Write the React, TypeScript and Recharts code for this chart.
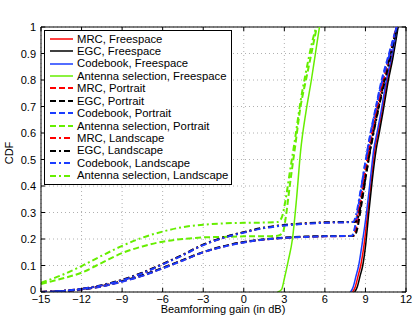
import React from "react";
import {
  LineChart,
  Line,
  XAxis,
  YAxis,
  CartesianGrid,
  ReferenceLine,
} from "recharts";

// [gain in dB, CDF] pairs
const mrcFreespace = [[8.05, 0], [8.25, 0.02], [8.45, 0.06], [8.65, 0.1], [8.9, 0.18], [9.17, 0.3], [9.43, 0.42], [9.7, 0.54], [9.93, 0.6], [10.22, 0.68], [10.62, 0.8], [10.95, 0.88], [11.38, 1]];
const egcFreespace = [[8.2, 0], [8.4, 0.02], [8.6, 0.06], [8.8, 0.1], [9.02, 0.18], [9.25, 0.3], [9.5, 0.42], [9.8, 0.54], [10.02, 0.6], [10.3, 0.68], [10.7, 0.8], [11.02, 0.88], [11.42, 1]];
const cbFreespace = [[7.9, 0], [8.1, 0.02], [8.3, 0.06], [8.5, 0.1], [8.75, 0.18], [9.08, 0.3], [9.35, 0.42], [9.62, 0.54], [9.85, 0.6], [10.15, 0.68], [10.55, 0.8], [10.9, 0.88], [11.35, 1]];
const asFreespace = [[2.5, 0], [2.8, 0.01], [3.0, 0.05], [3.3, 0.12], [3.6, 0.2], [3.9, 0.35], [4.2, 0.53], [4.6, 0.68], [5.0, 0.8], [5.3, 0.9], [5.6, 1]];

const mrcPortrait = [[-15, 0], [-13.5, 0.003], [-12, 0.01], [-10.5, 0.022], [-9, 0.04], [-7.5, 0.062], [-6, 0.09], [-4.5, 0.12], [-3, 0.15], [-1.5, 0.172], [0, 0.188], [1.5, 0.198], [3, 0.204], [4.5, 0.208], [6, 0.21], [8.1, 0.212], [8.3, 0.24], [8.6, 0.33], [9.0, 0.46], [9.4, 0.58], [9.8, 0.68], [10.3, 0.8], [10.8, 0.9], [11.3, 1]];
const egcPortrait = [[-15, 0], [-13.5, 0.003], [-12, 0.01], [-10.5, 0.022], [-9, 0.041], [-7.5, 0.063], [-6, 0.091], [-4.5, 0.121], [-3, 0.151], [-1.5, 0.173], [0, 0.189], [1.5, 0.199], [3, 0.205], [4.5, 0.209], [6, 0.211], [8.2, 0.212], [8.4, 0.24], [8.7, 0.33], [9.1, 0.46], [9.5, 0.58], [9.9, 0.68], [10.4, 0.8], [10.85, 0.9], [11.35, 1]];
const cbPortrait = [[-15, 0], [-13.5, 0.003], [-12, 0.01], [-10.5, 0.021], [-9, 0.039], [-7.5, 0.061], [-6, 0.089], [-4.5, 0.119], [-3, 0.15], [-1.5, 0.171], [0, 0.187], [1.5, 0.198], [3, 0.204], [4.5, 0.208], [6, 0.21], [8.0, 0.212], [8.2, 0.24], [8.5, 0.33], [8.9, 0.46], [9.3, 0.58], [9.7, 0.68], [10.2, 0.8], [10.75, 0.9], [11.3, 1]];
const asPortrait = [[-15, 0.03], [-13.5, 0.05], [-12, 0.073], [-10.5, 0.11], [-9, 0.147], [-7.5, 0.172], [-6, 0.19], [-4.5, 0.2], [-3, 0.206], [-1.5, 0.208], [0, 0.21], [1.5, 0.21], [2.5, 0.212], [2.9, 0.225], [3.1, 0.28], [3.4, 0.4], [3.8, 0.55], [4.2, 0.7], [4.6, 0.8], [5.0, 0.9], [5.4, 1]];

const mrcLandscape = [[-15, 0], [-13.5, 0.004], [-12, 0.012], [-10.5, 0.025], [-9, 0.045], [-7.5, 0.072], [-6, 0.105], [-4.5, 0.14], [-3, 0.178], [-1.5, 0.205], [0, 0.225], [1.5, 0.242], [3, 0.252], [4.5, 0.258], [6, 0.262], [8.2, 0.265], [8.4, 0.29], [8.7, 0.37], [9.1, 0.49], [9.5, 0.6], [9.9, 0.7], [10.4, 0.81], [10.85, 0.9], [11.3, 1]];
const egcLandscape = [[-15, 0], [-13.5, 0.004], [-12, 0.012], [-10.5, 0.026], [-9, 0.046], [-7.5, 0.073], [-6, 0.106], [-4.5, 0.141], [-3, 0.179], [-1.5, 0.206], [0, 0.226], [1.5, 0.243], [3, 0.253], [4.5, 0.259], [6, 0.263], [8.3, 0.265], [8.5, 0.29], [8.8, 0.37], [9.2, 0.49], [9.6, 0.6], [10.0, 0.7], [10.5, 0.81], [10.9, 0.9], [11.35, 1]];
const cbLandscape = [[-15, 0], [-13.5, 0.004], [-12, 0.012], [-10.5, 0.025], [-9, 0.044], [-7.5, 0.071], [-6, 0.104], [-4.5, 0.139], [-3, 0.177], [-1.5, 0.204], [0, 0.224], [1.5, 0.241], [3, 0.251], [4.5, 0.257], [6, 0.261], [8.1, 0.264], [8.3, 0.29], [8.6, 0.37], [9.0, 0.49], [9.4, 0.6], [9.8, 0.7], [10.3, 0.81], [10.8, 0.9], [11.3, 1]];
const asLandscape = [[-15, 0.035], [-13.5, 0.063], [-12, 0.098], [-10.5, 0.137], [-9, 0.174], [-7.5, 0.205], [-6, 0.228], [-4.5, 0.245], [-3, 0.254], [-1.5, 0.259], [0, 0.261], [1.5, 0.262], [2.5, 0.264], [2.8, 0.28], [3.1, 0.35], [3.4, 0.45], [3.8, 0.58], [4.2, 0.72], [4.6, 0.83], [5.0, 0.93], [5.35, 1]];

const gainTicks = [-15, -12, -9, -6, -3, 0, 3, 6, 9, 12];
const cdfTicks = [0, 0.1, 0.2, 0.3, 0.4, 0.5, 0.6, 0.7, 0.8, 0.9, 1];

const RED = "#ff0000";
const BLACK = "#000000";
const BLUE = "#1a3cff";
const GREEN = "#66ee00";
const DASH = "6 3";
const DASHDOT = "6 3 2 3";

const series = [
  { name: "MRC, Freespace", pts: mrcFreespace, color: RED, dash: undefined },
  { name: "EGC, Freespace", pts: egcFreespace, color: BLACK, dash: undefined },
  { name: "Codebook, Freespace", pts: cbFreespace, color: BLUE, dash: undefined },
  { name: "Antenna selection, Freespace", pts: asFreespace, color: GREEN, dash: undefined },
  { name: "MRC, Portrait", pts: mrcPortrait, color: RED, dash: DASH },
  { name: "EGC, Portrait", pts: egcPortrait, color: BLACK, dash: DASH },
  { name: "Codebook, Portrait", pts: cbPortrait, color: BLUE, dash: DASH },
  { name: "Antenna selection, Portrait", pts: asPortrait, color: GREEN, dash: DASH },
  { name: "MRC, Landscape", pts: mrcLandscape, color: RED, dash: DASHDOT },
  { name: "EGC, Landscape", pts: egcLandscape, color: BLACK, dash: DASHDOT },
  { name: "Codebook, Landscape", pts: cbLandscape, color: BLUE, dash: DASHDOT },
  { name: "Antenna selection, Landscape", pts: asLandscape, color: GREEN, dash: DASHDOT },
];

const W = 415;
const H = 319;
const TOP = 27;
const BOTTOM = 292;
const LEFT = 41;
const RIGHT = 406;
const FONT = "'Liberation Sans', Arial, Helvetica, sans-serif";

const fmt = (v: number) => (v < 0 ? "\u2212" + Math.abs(v) : String(v));

const XTick = (props: any) => {
  const { x, payload } = props;
  return (
    <g>
      <line x1={x} x2={x} y1={BOTTOM} y2={BOTTOM - 4} stroke="#000" />
      <line x1={x} x2={x} y1={TOP} y2={TOP + 4} stroke="#000" />
      <text x={x} y={BOTTOM + 11} textAnchor="middle" fontSize={11} fontFamily={FONT} fill="#000">
        {fmt(payload.value)}
      </text>
    </g>
  );
};

const YTick = (props: any) => {
  const { y, payload } = props;
  return (
    <g>
      <line x1={LEFT} x2={LEFT + 4} y1={y} y2={y} stroke="#000" />
      <line x1={RIGHT} x2={RIGHT - 4} y1={y} y2={y} stroke="#000" />
      <text x={36} y={payload.value === 0 ? y + 2 : y + 4} textAnchor="end" fontSize={11} fontFamily={FONT} fill="#000">
        {payload.value}
      </text>
    </g>
  );
};

function LegendBox() {
  return (
    <div
      style={{
        position: "absolute",
        left: 44,
        top: 30,
        width: 186,
        height: 151,
        border: "1px solid #000",
        background: "#fff",
        fontFamily: FONT,
        fontSize: 11.3,
        paddingTop: 1.5,
        boxSizing: "content-box",
      }}
    >
      {series.map((s) => (
        <div
          key={s.name}
          style={{ height: 12.45, lineHeight: "12.45px", display: "flex", alignItems: "center", whiteSpace: "nowrap" }}
        >
          <svg width={32} height={12} style={{ flex: "none" }}>
            <line x1={5} x2={28} y1={6} y2={6} stroke={s.color} strokeWidth={s.dash ? 2 : 1.5} strokeDasharray={s.dash} />
          </svg>
          <span>{s.name}</span>
        </div>
      ))}
    </div>
  );
}

export default function App() {
  return (
    <div style={{ position: "absolute", left: 0, top: 0, width: W, height: H, background: "#fff" }}>
      <LineChart width={W} height={H} margin={{ top: TOP, right: W - RIGHT, left: 0, bottom: 0 }}>
        <CartesianGrid stroke="#b0b0b0" strokeDasharray="1 3" />
        <XAxis
          dataKey="gain"
          type="number"
          domain={[-15, 12]}
          ticks={gainTicks}
          height={H - BOTTOM}
          tickLine={false}
          axisLine={{ stroke: "#000" }}
          tick={<XTick />}
          allowDataOverflow
        />
        <YAxis
          dataKey="cdf"
          type="number"
          domain={[0, 1]}
          ticks={cdfTicks}
          width={LEFT}
          tickLine={false}
          axisLine={{ stroke: "#000" }}
          tick={<YTick />}
          allowDataOverflow
        />
        <ReferenceLine x={12} stroke="#000" />
        <ReferenceLine y={1} stroke="#000" />
        {series.map((s) => (
          <Line
            key={s.name}
            data={s.pts.map(([gain, cdf]) => ({ gain, cdf }))}
            dataKey="cdf"
            type="monotone"
            stroke={s.color}
            strokeWidth={s.dash ? 2 : 1.5}
            strokeDasharray={s.dash}
            dot={false}
            isAnimationActive={false}
          />
        ))}
      </LineChart>
      <div
        style={{
          position: "absolute",
          left: 223,
          top: 303,
          transform: "translateX(-50%)",
          fontFamily: FONT,
          fontSize: 11,
          lineHeight: "13px",
          whiteSpace: "nowrap",
        }}
      >
        Beamforming gain (in dB)
      </div>
      <div
        style={{
          position: "absolute",
          left: 9,
          top: 153,
          transform: "translate(-50%, -50%) rotate(-90deg)",
          fontFamily: FONT,
          fontSize: 11,
        }}
      >
        CDF
      </div>
      <LegendBox />
    </div>
  );
}
